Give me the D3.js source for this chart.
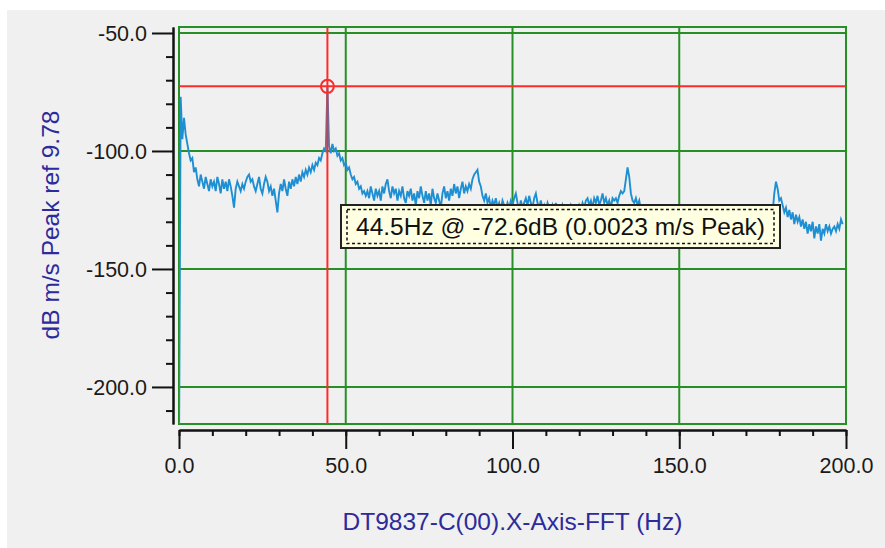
<!DOCTYPE html>
<html>
<head>
<meta charset="utf-8">
<script src="https://cdn.jsdelivr.net/npm/d3@7/dist/d3.min.js"></script>
<style>
  html, body { margin: 0; padding: 0; background: #ffffff; }
  svg { display: block; }
  text { font-family: "Liberation Sans", Arial, sans-serif; }
</style>
</head>
<body>
<svg id="chart" width="885" height="548"></svg>
<script>
// ---------------- DATA ----------------
const binHz = 0.5;              // FFT bin spacing (Hz)
const spectrumDb = [
  -230, -77, -95, -86, -93, -97, -101, -104, -103, -109,        // 0 - 4.5
  -107, -112, -115, -110, -113, -116, -111, -114, -117, -112,   // 5 - 9.5
  -115, -113, -117, -111, -114, -118, -112, -116, -113, -117,   // 10 - 14.5
  -112, -115, -119, -124, -116, -113, -115, -117, -114, -116,   // 15 - 19.5
  -113, -111, -110, -113, -112, -115, -117, -114, -111, -116,   // 20 - 24.5
  -118, -114, -111, -113, -117, -115, -119, -116, -121, -126,   // 25 - 29.5
  -118, -114, -117, -112, -116, -119, -113, -116, -112, -115,   // 30 - 34.5
  -111, -114, -110, -113, -109, -111, -108, -110, -107, -109,   // 35 - 39.5
  -106, -108, -105, -106, -103, -104, -101, -99, -100, -72.6,   // 40 - 44.5
  -98, -101, -97, -100, -99, -102, -101, -104, -103, -106,      // 45 - 49.5
  -105, -108, -107, -110, -112, -111, -114, -113, -116, -115,   // 50 - 54.5
  -118, -117, -119, -117, -120, -115, -118, -121, -116, -119,   // 55 - 59.5
  -117, -121, -115, -118, -114, -112, -117, -120, -115, -118,   // 60 - 64.5
  -116, -121, -117, -119, -115, -120, -122, -117, -119, -116,   // 65 - 69.5
  -121, -118, -123, -117, -120, -115, -119, -122, -117, -121,   // 70 - 74.5
  -118, -123, -116, -120, -122, -118, -121, -124, -118, -115,   // 75 - 79.5
  -120, -117, -121, -116, -119, -114, -118, -115, -120, -116,   // 80 - 84.5
  -113, -118, -115, -117, -114, -116, -112, -110, -109, -108,   // 85 - 89.5
  -113, -115, -119, -121, -118, -122, -120, -124, -121, -123,   // 90 - 94.5
  -120, -124, -122, -125, -121, -123, -125, -122, -124, -121,   // 95 - 99.5
  -123, -120, -118, -122, -125, -121, -124, -122, -120, -123,   // 100 - 104.5
  -119, -122, -124, -120, -118, -122, -124, -121, -125, -123,   // 105 - 109.5
  -126, -122, -124, -127, -123, -125, -122, -126, -124, -127,   // 110 - 114.5
  -123, -125, -128, -124, -126, -123, -125, -127, -124, -126,   // 115 - 119.5
  -123, -125, -122, -124, -121, -120, -123, -121, -124, -120,   // 120 - 124.5
  -122, -119, -123, -121, -118, -122, -120, -123, -121, -124,   // 125 - 129.5
  -120, -121, -120, -122, -119, -117, -118, -117, -112, -107,   // 130 - 134.5
  -111, -118, -121, -122, -120, -123, -121, -125, -126, -128,   // 135 - 139.5
  -125, -129, -127, -126, -130, -127, -125, -128, -126, -129,   // 140 - 144.5
  -127, -125, -128, -130, -126, -128, -125, -127, -129, -126,   // 145 - 149.5
  -128, -126, -129, -127, -125, -128, -130, -127, -126, -129,   // 150 - 154.5
  -127, -125, -128, -126, -130, -127, -129, -126, -128, -125,   // 155 - 159.5
  -127, -129, -126, -128, -130, -127, -125, -128, -126, -129,   // 160 - 164.5
  -127, -130, -128, -126, -129, -127, -131, -128, -126, -129,   // 165 - 169.5
  -127, -130, -128, -126, -129, -127, -128, -126, -127, -124,   // 170 - 174.5
  -126, -128, -127, -126, -128, -125, -126, -118, -113, -116,   // 175 - 179.5
  -121, -120, -123, -126, -124, -128, -125, -129, -126, -131,   // 180 - 184.5
  -127, -130, -128, -132, -129, -133, -130, -135, -131, -134,   // 185 - 189.5
  -130, -137, -132, -135, -131, -138, -133, -135, -131, -134,   // 190 - 194.5
  -132, -135, -133, -132, -134, -131, -133, -129, -131          // 195 - 199.5, 200
];

const xMajorTicks = [0, 50, 100, 150, 200];
const xMinorTicks = [0, 10, 20, 30, 40, 50, 60, 70, 80, 90, 100, 110, 120, 130, 140, 150, 160, 170, 180, 190, 200];
const yMajorTicks = [-50, -100, -150, -200];
const yMinorTicks = [-60, -70, -80, -90, -110, -120, -130, -140, -160, -170, -180, -190, -210];

const cursorHz = 44.5;
const cursorDb = -72.6;
const cursorLabel = "44.5Hz @ -72.6dB (0.0023 m/s Peak)";
const xTitle = "DT9837-C(00).X-Axis-FFT (Hz)";
const yTitle = "dB m/s Peak ref 9.78";

// ---------------- LAYOUT ----------------
const plot = { left: 179, right: 846, top: 27, bottom: 424 };
const xDomain = [0, 200];
const yDomain = [-215.7, -47.46];

const svg = d3.select("#chart");
svg.append("rect").attr("x", 7).attr("y", 10).attr("width", 878).attr("height", 538).attr("fill", "#f0f0f0");

const x = d3.scaleLinear().domain(xDomain).range([plot.left, plot.right]);
const y = d3.scaleLinear().domain(yDomain).range([plot.bottom, plot.top]);

const gridColor = "#268f26";
const fmt = d => d.toFixed(1);   // plain hyphen-minus like the original

// clip
svg.append("defs").append("clipPath").attr("id", "plotclip")
  .append("rect").attr("x", plot.left).attr("y", plot.top)
  .attr("width", plot.right - plot.left).attr("height", plot.bottom - plot.top);

// grid lines
const grid = svg.append("g");
grid.selectAll("line.gx").data(xMajorTicks.filter(d => d > xDomain[0] && d < xDomain[1])).enter()
  .append("line").attr("x1", d => x(d)).attr("x2", d => x(d))
  .attr("y1", plot.top).attr("y2", plot.bottom)
  .attr("stroke", gridColor).attr("stroke-width", 2);
grid.selectAll("line.gy").data(yMajorTicks).enter()
  .append("line").attr("y1", d => y(d)).attr("y2", d => y(d))
  .attr("x1", plot.left).attr("x2", plot.right)
  .attr("stroke", gridColor).attr("stroke-width", 2);
grid.append("rect").attr("x", plot.left).attr("y", plot.top)
  .attr("width", plot.right - plot.left).attr("height", plot.bottom - plot.top)
  .attr("fill", "none").attr("stroke", gridColor).attr("stroke-width", 2);

// data line
const line = d3.line().x((d, i) => x(i * binHz)).y(d => y(d));
svg.append("path").datum(spectrumDb)
  .attr("clip-path", "url(#plotclip)")
  .attr("d", line).attr("fill", "none")
  .attr("stroke", "#1e8fd2").attr("stroke-width", 1.9).attr("stroke-linejoin", "miter");

// cursor
const cur = svg.append("g").attr("clip-path", "url(#plotclip)");
cur.append("line").attr("x1", x(cursorHz)).attr("x2", x(cursorHz))
  .attr("y1", plot.top).attr("y2", plot.bottom).attr("stroke", "#ff2b2b").attr("stroke-width", 2);
cur.append("line").attr("y1", y(cursorDb)).attr("y2", y(cursorDb))
  .attr("x1", plot.left).attr("x2", plot.right).attr("stroke", "#ff2b2b").attr("stroke-width", 2);
svg.append("circle").attr("cx", x(cursorHz)).attr("cy", y(cursorDb)).attr("r", 6.5)
  .attr("fill", "none").attr("stroke", "#ff2b2b").attr("stroke-width", 2);

// axes
const axisColor = "#111";
const xAxisY = 430;
const yAxisX = 173;

const gxMinor = svg.append("g").attr("transform", `translate(0,${xAxisY})`)
  .call(d3.axisBottom(x).tickValues(xMinorTicks).tickSize(6).tickSizeOuter(0).tickFormat(""));
const gxMajor = svg.append("g").attr("transform", `translate(0,${xAxisY})`)
  .call(d3.axisBottom(x).tickValues(xMajorTicks).tickSize(19).tickSizeOuter(0).tickPadding(9).tickFormat(fmt));
const gyMinor = svg.append("g").attr("transform", `translate(${yAxisX},0)`)
  .call(d3.axisLeft(y).tickValues(yMinorTicks).tickSize(7).tickSizeOuter(0).tickFormat(""));
const gyMajor = svg.append("g").attr("transform", `translate(${yAxisX},0)`)
  .call(d3.axisLeft(y).tickValues(yMajorTicks).tickSize(21).tickSizeOuter(0).tickPadding(5).tickFormat(fmt));

[gxMinor, gxMajor, gyMinor, gyMajor].forEach(g => {
  g.selectAll("path.domain").attr("stroke", axisColor).attr("stroke-width", 2);
  g.selectAll(".tick line").attr("stroke", axisColor).attr("stroke-width", 2);
  g.selectAll(".tick text").attr("fill", "#1a1a1a").attr("font-size", 21.5)
    .attr("font-family", "'Liberation Sans', Arial, sans-serif");
});
gyMajor.selectAll(".tick text").attr("dy", "0.34em");

// axis titles
svg.append("text").attr("x", (plot.left + plot.right) / 2).attr("y", 530)
  .attr("text-anchor", "middle").attr("font-size", 24.5).attr("fill", "#2d2b9c").text(xTitle);
svg.append("text").attr("transform", "translate(59,225) rotate(-90)")
  .attr("text-anchor", "middle").attr("font-size", 24.5).attr("fill", "#2d2b9c").text(yTitle);

// tooltip
const tip = { x: 341, y: 205, w: 439, h: 43 };
svg.append("rect").attr("x", tip.x).attr("y", tip.y).attr("width", tip.w).attr("height", tip.h)
  .attr("fill", "#ffffe1").attr("stroke", "#222").attr("stroke-width", 2);
svg.append("rect").attr("x", tip.x + 6).attr("y", tip.y + 4.5).attr("width", tip.w - 12).attr("height", tip.h - 9)
  .attr("fill", "none").attr("stroke", "#111").attr("stroke-width", 1.5).attr("stroke-dasharray", "3,2.5");
svg.append("text").attr("x", tip.x + tip.w / 2).attr("y", tip.y + 30)
  .attr("text-anchor", "middle").attr("font-size", 24.5).attr("fill", "#111").text(cursorLabel);
</script>
</body>
</html>
